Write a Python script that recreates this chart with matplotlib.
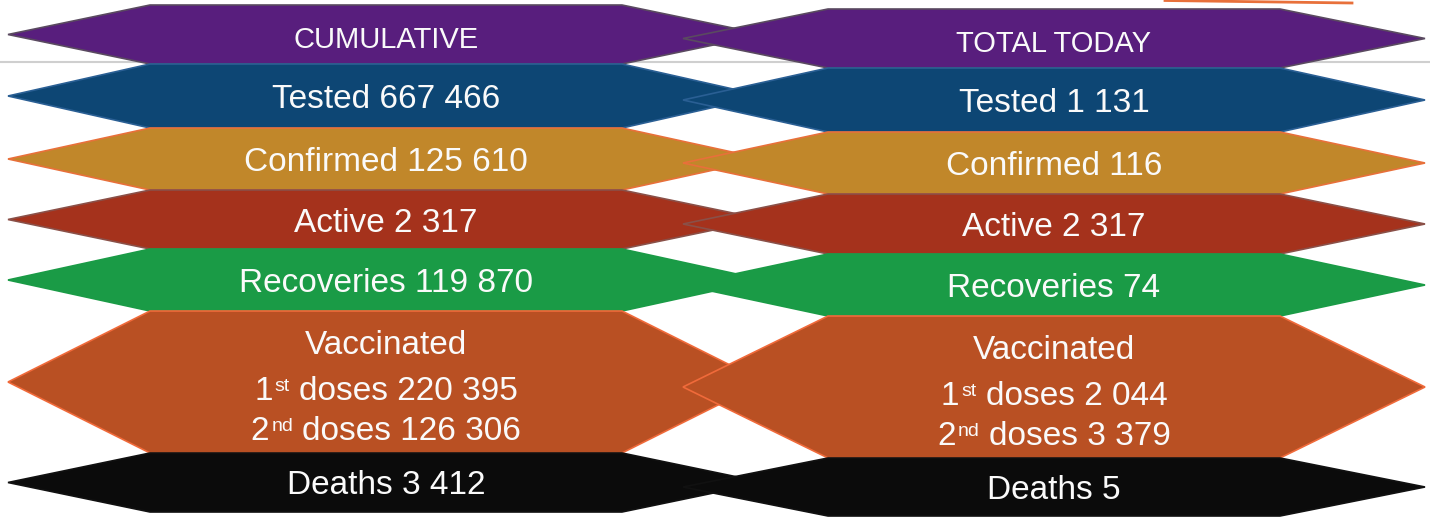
import matplotlib
matplotlib.use("Agg")
import matplotlib.pyplot as plt
from matplotlib.patches import Polygon

# ---------------- data ----------------
headers = ["CUMULATIVE", "TOTAL TODAY"]
categories = ["Tested", "Confirmed", "Active", "Recoveries"]
cumulative = [667466, 125610, 2317, 119870]
today = [1131, 116, 2317, 74]
vacc_title = "Vaccinated"
dose_labels = ["1", "2"]
dose_suffix = ["st", "nd"]
cum_doses = [220395, 126306]
today_doses = [2044, 3379]
deaths_label = "Deaths"
cum_deaths = 3412
today_deaths = 5

# ---------------- style / layout ----------------
fills = ["#581e7d", "#0d4674", "#c1872a", "#a5321c", "#1a9b46", "#b95023", "#0b0b0b"]
edges = ["#5a4a60", "#2a5f94", "#e8703a", "#8a5048", "#1a9b46", "#f06a3a", "#111111"]
left_rows = [5, 64, 128, 190, 249, 311, 453, 512]
right_rows = [9, 68, 132, 194, 254, 316, 458, 516]
left_x = (8, 764, 142)
right_x = (683, 1425, 145)

plt.rcParams["font.family"] = ["Liberation Sans", "DejaVu Sans"]

W, H = 1430, 517
fig = plt.figure(figsize=(W / 100, H / 100), dpi=100)
ax = fig.add_axes([0, 0, 1, 1])
ax.set_xlim(0, W)
ax.set_ylim(H, 0)
ax.axis("off")
renderer = fig.canvas.get_renderer()


def fmt(v):
    return f"{v:,}".replace(",", " ")


def text_width(s, fs):
    t = ax.text(0, 0, s, fontsize=fs)
    w = t.get_window_extent(renderer=renderer).width
    t.remove()
    return w


def hexagon(xl, xr, d, y0, y1, fc, ec, z):
    ym = (y0 + y1) / 2
    pts = [(xl, ym), (xl + d, y0), (xr - d, y0), (xr, ym), (xr - d, y1), (xl + d, y1)]
    ax.add_patch(Polygon(pts, closed=True, facecolor=fc, edgecolor=ec,
                         lw=1.2, zorder=z, joinstyle="miter"))


# background rule line and top stray line
ax.plot([0, W], [62, 62], color="#cfcfcf", lw=1.5, zorder=0)
ax.plot([1165, 1352], [0.5, 3], color="#e8703a", lw=2, zorder=0)

panels = [
    (left_x, left_rows, cumulative, cum_doses, cum_deaths, headers[0], 1),
    (right_x, right_rows, today, today_doses, today_deaths, headers[1], 3),
]

TXT = "#fafafa"
FS = 24
SFS = 14
space_w = text_width("a b", FS) - text_width("ab", FS)

for (xl, xr, d), rows, vals, doses, deaths, header, z in panels:
    cx = (xl + xr) / 2
    for i in range(7):
        hexagon(xl, xr, d, rows[i], rows[i + 1], fills[i], edges[i], z)
    mids = [(rows[i] + rows[i + 1]) / 2 for i in range(7)]
    # header
    ax.text(cx, mids[0] + 13, header, color=TXT, fontsize=21,
            ha="center", va="baseline", zorder=z + 1)
    # simple rows
    for j, (cat, v) in enumerate(zip(categories, vals)):
        ax.text(cx, mids[j + 1] + 12, f"{cat} {fmt(v)}", color=TXT, fontsize=FS,
                ha="center", va="baseline", zorder=z + 1)
    # vaccinated
    m = mids[5]
    ax.text(cx, m - 28, vacc_title, color=TXT, fontsize=FS,
            ha="center", va="baseline", zorder=z + 1)
    for k, (n, suf, v) in enumerate(zip(dose_labels, dose_suffix, doses)):
        rest = f"doses {fmt(v)}"
        w1 = text_width(n, FS)
        w2 = text_width(suf, SFS)
        w3 = text_width(rest, FS)
        gap = 2
        total = w1 + gap + w2 + space_w + w3
        x0 = cx - total / 2
        yb = m + 18 + k * 40
        ax.text(x0, yb, n, color=TXT, fontsize=FS, ha="left", va="baseline", zorder=z + 1)
        ax.text(x0 + w1 + gap, yb - 9, suf, color=TXT, fontsize=SFS,
                ha="left", va="baseline", zorder=z + 1)
        ax.text(x0 + w1 + gap + w2 + space_w, yb, rest, color=TXT, fontsize=FS,
                ha="left", va="baseline", zorder=z + 1)
    # deaths
    ax.text(cx, mids[6] + 12, f"{deaths_label} {fmt(deaths)}", color=TXT, fontsize=FS,
            ha="center", va="baseline", zorder=z + 1)

fig.savefig("out.png", dpi=100)
